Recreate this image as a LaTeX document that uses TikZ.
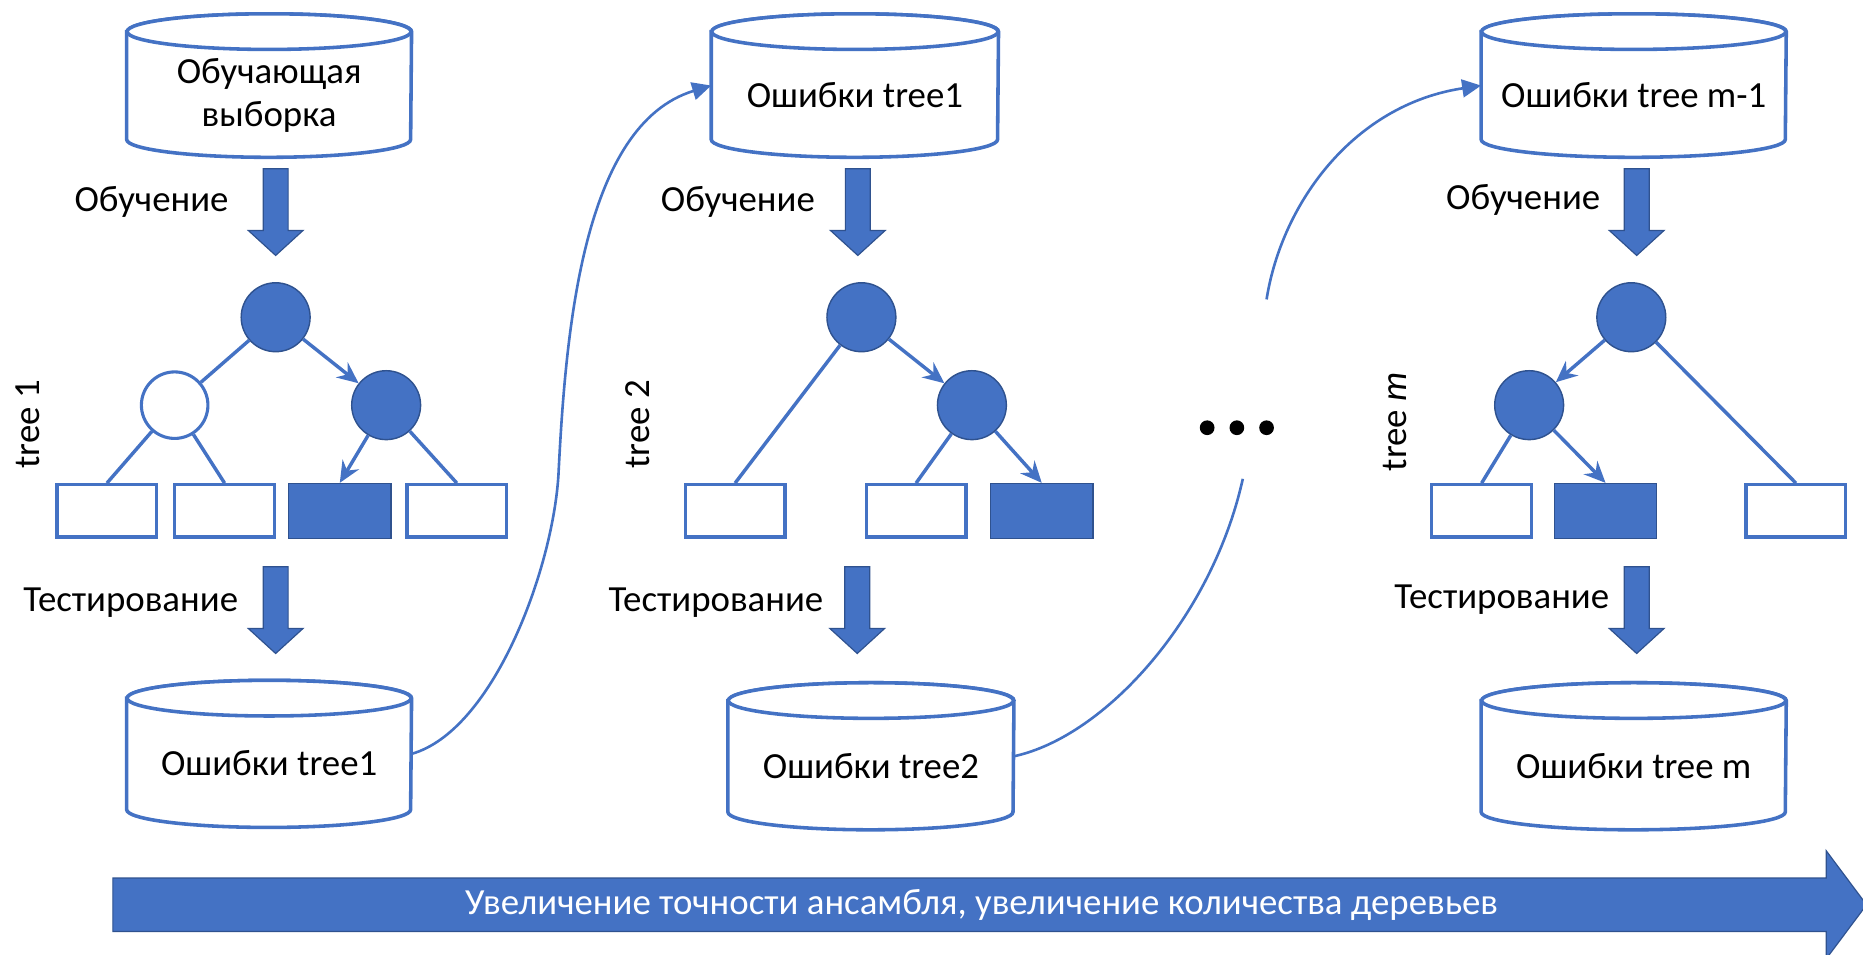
\documentclass[tikz,border=0pt]{standalone}
\usepackage{fontspec}
\setmainfont{Carlito}
\usetikzlibrary{arrows.meta}
\definecolor{ob}{HTML}{4472C4}
\definecolor{obd}{HTML}{2F528F}
\newcommand\dbcyl[6]{%
  \node[cylbox, minimum width=#4, minimum height=#5] (#1) at (#2,#3) {};
  \path[cylline] ([yshift=-7.5pt]#1.north west) -- ([yshift=7.5pt]#1.south west)
     arc[start angle=180, end angle=360, x radius=#6, y radius=7.5pt]
     -- ([yshift=-7.5pt]#1.north east)
     arc[start angle=0, end angle=180, x radius=#6, y radius=7.5pt] -- cycle;
  \path[cylline] ([yshift=-7.5pt]#1.north) ellipse[x radius=#6, y radius=7.5pt];
}
\newcommand\dnarrow[2]{%
  \path[barrow] (#1-10.5,#2) -- (#1+10.5,#2) -- (#1+10.5,#2+52) -- (#1+23,#2+52)
    -- (#1,#2+73) -- (#1-23,#2+52) -- (#1-10.5,#2+52) -- cycle;
}
\begin{document}
\begin{tikzpicture}[x=0.5pt,y=-0.5pt,
  every node/.style={font=\fontsize{15.5}{18}\selectfont},
  fnode/.style={circle, fill=ob, draw=obd, line width=0.6pt, minimum size=29pt, inner sep=0pt},
  wnode/.style={circle, fill=white, draw=ob, line width=1.3pt, minimum size=28pt, inner sep=0pt},
  wleaf/.style={rectangle, fill=white, draw=ob, line width=1.4pt, minimum width=42pt, minimum height=22pt, inner sep=0pt},
  fleaf/.style={rectangle, fill=ob, draw=obd, line width=0.6pt, minimum width=43pt, minimum height=23pt, inner sep=0pt},
  edge/.style={draw=ob, line width=1.45pt},
  aedge/.style={edge, -{Stealth[length=9pt,width=8pt,inset=3pt]}},
  curv/.style={draw=ob, line width=1.1pt},
  link/.style={curv, -{Triangle[length=8pt,width=7.5pt]}},
  cylbox/.style={rectangle, inner sep=0pt},
  cylline/.style={draw=ob, line width=1.5pt, fill=white},
  barrow/.style={fill=ob, draw=obd, line width=0.5pt},
  lbl/.style={text=black, inner sep=0pt},
  dotn/.style={circle, fill=black, minimum size=6.2pt, inner sep=0pt},
]
\useasboundingbox (0,0) rectangle (1568,803);

\coordinate (k1) at (470,400);
\coordinate (g1) at (1046,403);
\coordinate (g2) at (1066,252);

% cylinders
\dbcyl{cA}{226.5}{72}{119.5pt}{60pt}{59.75pt}
\dbcyl{cB}{719.5}{72}{120.5pt}{60pt}{60.25pt}
\dbcyl{cM}{1375}{72}{128pt}{60pt}{64pt}
\dbcyl{cT1}{226.5}{634.5}{119.5pt}{61.5pt}{59.75pt}
\dbcyl{cT2}{733}{636.5}{120pt}{61.5pt}{60pt}
\dbcyl{cTm}{1375}{636.5}{128pt}{61.5pt}{64pt}

\node[lbl, align=center] (tA) at (226.5,80) {Обучающая\\выборка};
\node[lbl] (tB) at (719.5,80) {Ошибки tree1};
\node[lbl] (tM) at (1375,80) {Ошибки tree m-1};
\node[lbl] (tT1) at (226.5,642) {Ошибки tree1};
\node[lbl] (tT2) at (733,645) {Ошибки tree2};
\node[lbl] (tTm) at (1375,645) {Ошибки tree m};

\draw[link] (cT1.east) .. controls (415,615) and (465,480) .. (k1)
   .. controls (476,280) and (490,105) .. (cB.west);
\draw[curv] (cT2.east) .. controls (930,620) and (1020,520) .. (g1);
\draw[link] (g2) .. controls (1079,170) and (1140,88) .. (cM.west);

% block arrows
\dnarrow{232}{142}
\dnarrow{722}{142}
\dnarrow{1377.5}{142}
\dnarrow{232}{477}
\dnarrow{721.5}{477}
\dnarrow{1377.5}{477}

\node[lbl] (lo1) at (127.5,170) {Обучение};
\node[lbl] (lo2) at (621,170) {Обучение};
\node[lbl] (lo3) at (1282,168) {Обучение};
\node[lbl] (lt1) at (110,507) {Тестирование};
\node[lbl] (lt2) at (602.5,507) {Тестирование};
\node[lbl] (lt3) at (1264,505) {Тестирование};
\node[lbl, rotate=90] (tr1) at (23,357) {tree 1};
\node[lbl, rotate=90] (tr2) at (537,357) {tree 2};
\node[lbl, rotate=90] (tr3) at (1174,355) {tree \textit{m}};

% tree 1
\node[fnode] (r1) at (232,267) {};
\node[wnode] (a1) at (147,341) {};
\node[fnode] (b1) at (325,341) {};
\node[wleaf] (l11) at (90,430) {};
\node[wleaf] (l12) at (189,430) {};
\node[fleaf] (l13) at (286,430) {};
\node[wleaf] (l14) at (384.5,430) {};
\draw[edge] (r1) -- (a1);
\draw[aedge] (r1) -- (b1);
\draw[edge] (a1) -- (l11.north);
\draw[edge] (a1) -- (l12.north);
\draw[aedge] (b1) -- (l13.north);
\draw[edge] (b1) -- (l14.north);

% tree 2
\node[fnode] (r2) at (725,267) {};
\node[fnode] (b2) at (818,341) {};
\node[wleaf] (l21) at (618.7,430) {};
\node[wleaf] (l22) at (771,430) {};
\node[fleaf] (l23) at (876.8,430) {};
\draw[edge] (r2) -- (l21.north);
\draw[aedge] (r2) -- (b2);
\draw[edge] (b2) -- (l22.north);
\draw[aedge] (b2) -- (l23.north);

% tree m
\node[fnode] (rm) at (1373,267) {};
\node[fnode] (am) at (1287,341) {};
\node[wleaf] (lm1) at (1247,430) {};
\node[fleaf] (lm2) at (1351.3,430) {};
\node[wleaf] (lm3) at (1511.5,430) {};
\draw[aedge] (rm) -- (am);
\draw[edge] (am) -- (lm1.north);
\draw[aedge] (am) -- (lm2.north);
\draw[edge] (rm) -- (lm3.north);

% dots
\node[dotn] (d1) at (1016,360) {};
\node[dotn] (d2) at (1041,360) {};
\node[dotn] (d3) at (1066,360) {};

% big arrow
\path[barrow] (95,739) -- (1537,739) -- (1537,716) -- (1571,761.5) -- (1537,807)
   -- (1537,784) -- (95,784) -- cycle;
\node[lbl, text=white] (big) at (826,762) {Увеличение точности ансамбля, увеличение количества деревьев};
\end{tikzpicture}
\end{document}
